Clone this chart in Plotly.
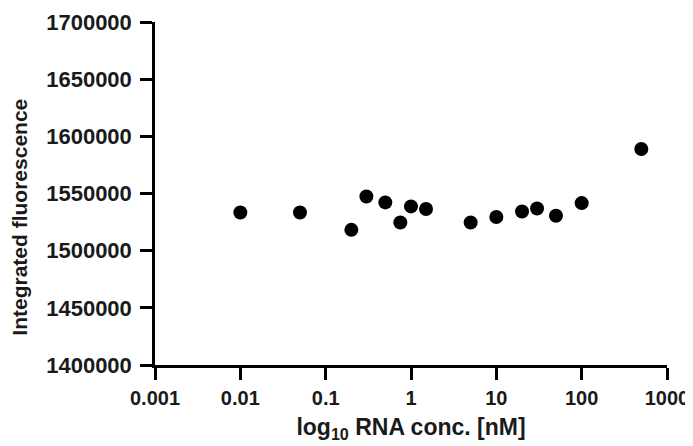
import plotly.graph_objects as go

conc_nM = [0.01, 0.05, 0.2, 0.3, 0.5, 0.75, 1, 1.5, 5, 10, 20, 30, 50, 100, 500]
fluorescence = [1533400, 1533400, 1518200, 1547400, 1542200, 1524600, 1538700, 1536400,
                1524600, 1529400, 1534300, 1536900, 1530500, 1541600, 1588900]

x_tickvals = [0.001, 0.01, 0.1, 1, 10, 100, 1000]
x_ticktext = ["0.001", "0.01", "0.1", "1", "10", "100", "1000"]
y_tickvals = [1400000, 1450000, 1500000, 1550000, 1600000, 1650000, 1700000]
y_ticktext = [str(v) for v in y_tickvals]

font_family = "Liberation Sans, Arial, sans-serif"
text_color = "#1a1a1a"

fig = go.Figure()
fig.add_trace(go.Scatter(
    x=conc_nM, y=fluorescence, mode="markers",
    marker=dict(color="black", size=14, line=dict(width=0)),
    showlegend=False, cliponaxis=False,
))

axis_common = dict(
    showline=True, linecolor="black", linewidth=2.5,
    ticks="outside", ticklen=12, tickwidth=2.5, tickcolor="black",
    showgrid=False, zeroline=False, mirror=False,
    ticklabeloverflow="allow",
)

fig.update_xaxes(
    type="log", range=[-3, 3], tickvals=x_tickvals, ticktext=x_ticktext,
    tickfont=dict(family=font_family, size=20, color=text_color, weight="bold"),
    title=dict(text="log<sub>10</sub> RNA conc. [nM]",
               font=dict(family=font_family, size=23, color=text_color, weight="bold"),
               standoff=12),
    ticklabelstandoff=1,
    **axis_common,
)
fig.update_yaxes(
    range=[1400000, 1700000], tickvals=y_tickvals, ticktext=y_ticktext,
    tickfont=dict(family=font_family, size=22, color=text_color, weight="bold"),
    ticklabelstandoff=4,
    **axis_common,
)

fig.add_annotation(
    text="Integrated fluorescence", textangle=-90,
    xref="paper", yref="paper", x=-0.264, y=0.432,
    xanchor="center", yanchor="middle", showarrow=False,
    font=dict(family=font_family, size=21, color=text_color, weight="bold"),
)

# page body has an 8px default margin, so size the figure to fit the 693x446 window
fig.update_layout(
    width=685, height=438,
    margin=dict(l=147, r=26, t=14, b=81, autoexpand=False),
    paper_bgcolor="white", plot_bgcolor="white",
)

fig.write_html("out.html")
